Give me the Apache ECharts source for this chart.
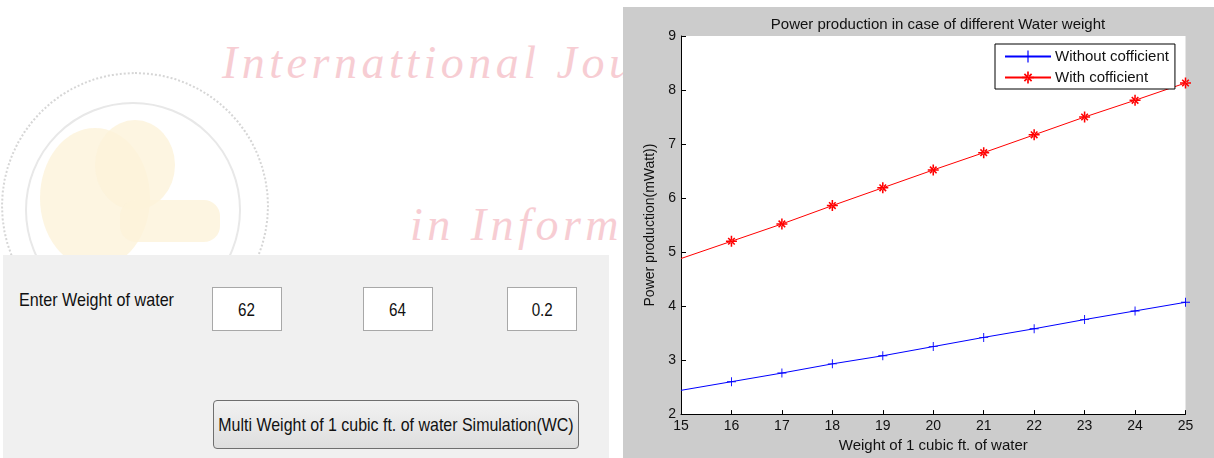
<!DOCTYPE html>
<html>
<head>
<meta charset="utf-8">
<script src="https://cdn.jsdelivr.net/npm/echarts@6/dist/echarts.min.js"></script>
<style>
  html, body { margin:0; padding:0; background:#fff; }
  body { width:1214px; height:458px; position:relative; overflow:hidden; font-family:"Liberation Sans", Arial, sans-serif; }
  .wm { position:absolute; font-family:"Liberation Serif","DejaVu Serif",serif; font-style:italic; color:#f7cdd3; font-size:46px; white-space:nowrap; letter-spacing:4.5px; }
  .ring1 { position:absolute; left:1px; top:72px; width:264px; height:264px; border:2px dotted #d6d6d6; border-radius:50%; }
  .ring2 { position:absolute; left:25px; top:102px; width:212px; height:212px; border:2px solid #e8e8e8; border-radius:50%; }
  .tree { position:absolute; background:#fdf3da; border-radius:50%; opacity:0.8; }
  .panel { position:absolute; left:3px; top:255px; width:606px; height:203px; background:#f0f0f0; }
  .lbl { position:absolute; left:19px; top:289px; font-size:19px; color:#111; transform:scaleX(0.85); transform-origin:left top; white-space:nowrap; }
  .box { position:absolute; top:287px; width:70px; height:44px; background:#fff; border:1px solid #a8a8a8; box-sizing:border-box; font-size:19px; color:#111; text-align:center; line-height:44px; }
  .box span { display:inline-block; transform:scaleX(0.8); }
  .btn { position:absolute; left:213px; top:400px; width:366px; height:49px; box-sizing:border-box; border:1px solid #6f6f6f; border-radius:4px; background:linear-gradient(#f2f2f2,#dedede); font-size:19px; color:#111; line-height:47px; white-space:nowrap; overflow:hidden; }
  .btn span { position:absolute; left:50%; top:0; transform-origin:center; transform:translateX(-50%) scaleX(0.84); }
  #chart { position:absolute; left:623px; top:7px; width:591px; height:451px; }
</style>
</head>
<body>
  <div class="ring1"></div>
  <div class="ring2"></div>
  <div class="tree" style="left:40px;top:128px;width:110px;height:140px;"></div>
  <div class="tree" style="left:95px;top:120px;width:80px;height:90px;"></div>
  <div class="tree" style="left:120px;top:200px;width:100px;height:42px;border-radius:16px;"></div>
  <div class="wm" style="left:222px;top:36px;">Internattional Jou</div>
  <div class="wm" style="left:410px;top:198px;">in Inform</div>

  <div class="panel"></div>
  <div class="lbl">Enter Weight of water</div>
  <div class="box" style="left:212px;"><span>62</span></div>
  <div class="box" style="left:363px;"><span>64</span></div>
  <div class="box" style="left:507px;"><span>0.2</span></div>
  <div class="btn"><span>Multi Weight of 1 cubic ft. of water Simulation(WC)</span></div>

  <div id="chart"></div>
<script>
  // ---- data ----
  const weights = [15, 16, 17, 18, 19, 20, 21, 22, 23, 24, 25];
  const withoutCofficient = [2.44, 2.60, 2.76, 2.93, 3.08, 3.25, 3.42, 3.58, 3.75, 3.91, 4.07];
  const withCofficient = [4.88, 5.20, 5.52, 5.86, 6.19, 6.52, 6.84, 7.17, 7.50, 7.81, 8.13];
  const seriesNames = ['Without cofficient', 'With cofficient'];
  const titleText = 'Power production in case of different Water weight';
  const xName = 'Weight of 1 cubic ft. of water';
  const yName = 'Power production(mWatt))';

  const plusPath = 'path://M4.5,0h1v10h-1z M0,4.5h10v1h-10z';
  const starPath = 'path://M4.3,0h1.4v10h-1.4z M0,4.3h10v1.4h-10z ' +
                   'M1.5,2.5L2.5,1.5L8.5,7.5L7.5,8.5z M8.5,2.5L7.5,1.5L1.5,7.5L2.5,8.5z';

  function pts(arr) {
    return weights.map(function (w, i) {
      const p = { value: [w, arr[i]] };
      if (i === 0) p.symbol = 'none';
      return p;
    });
  }

  const font = '"Liberation Sans", Arial, sans-serif';
  const chart = echarts.init(document.getElementById('chart'));
  chart.setOption({
    backgroundColor: '#cccccc',
    animation: false,
    title: {
      text: titleText,
      left: 310, top: 5, textAlign: 'center',
      textStyle: { fontFamily: font, fontSize: 15, fontWeight: 'normal', color: '#111' }
    },
    grid: { left: 58, right: 28.5, top: 29, bottom: 41.3, show: true, backgroundColor: '#fff', borderWidth: 0 },
    legend: {
      orient: 'vertical', left: 372, top: 37,
      backgroundColor: '#fff', borderColor: '#000', borderWidth: 1,
      padding: [5, 6, 4, 9], itemGap: 6, itemWidth: 46, itemHeight: 15,
      textStyle: { fontFamily: font, fontSize: 15, color: '#111', padding: [0, 0, 0, -1] },
      data: seriesNames
    },
    xAxis: {
      type: 'value', min: 15, max: 25, interval: 1,
      name: xName, nameLocation: 'middle', nameGap: 23,
      nameTextStyle: { fontFamily: font, fontSize: 15, color: '#111' },
      axisLine: { lineStyle: { color: '#000', width: 1 } },
      axisTick: { inside: true, length: 4, lineStyle: { color: '#000' } },
      axisLabel: { fontFamily: font, fontSize: 14, color: '#111', margin: 5 },
      splitLine: { show: false }
    },
    yAxis: {
      type: 'value', min: 2, max: 9, interval: 1,
      name: yName, nameLocation: 'middle', nameGap: 22,
      nameTextStyle: { fontFamily: font, fontSize: 14, color: '#111' },
      axisLine: { show: true, lineStyle: { color: '#000', width: 1 } },
      axisTick: { show: true, inside: true, length: 5, lineStyle: { color: '#000' } },
      axisLabel: { fontFamily: font, fontSize: 14, color: '#111', margin: 5 },
      splitLine: { show: false }
    },
    series: [
      {
        name: seriesNames[0], type: 'line', data: pts(withoutCofficient),
        symbol: plusPath, symbolSize: 9, showAllSymbol: true, clip: false,
        itemStyle: { color: '#0000ff' },
        lineStyle: { color: '#0000ff', width: 1 }
      },
      {
        name: seriesNames[1], type: 'line', data: pts(withCofficient),
        symbol: starPath, symbolSize: 11, showAllSymbol: true, clip: false,
        itemStyle: { color: '#ff0000' },
        lineStyle: { color: '#ff0000', width: 1 }
      }
    ]
  });
</script>
</body>
</html>
